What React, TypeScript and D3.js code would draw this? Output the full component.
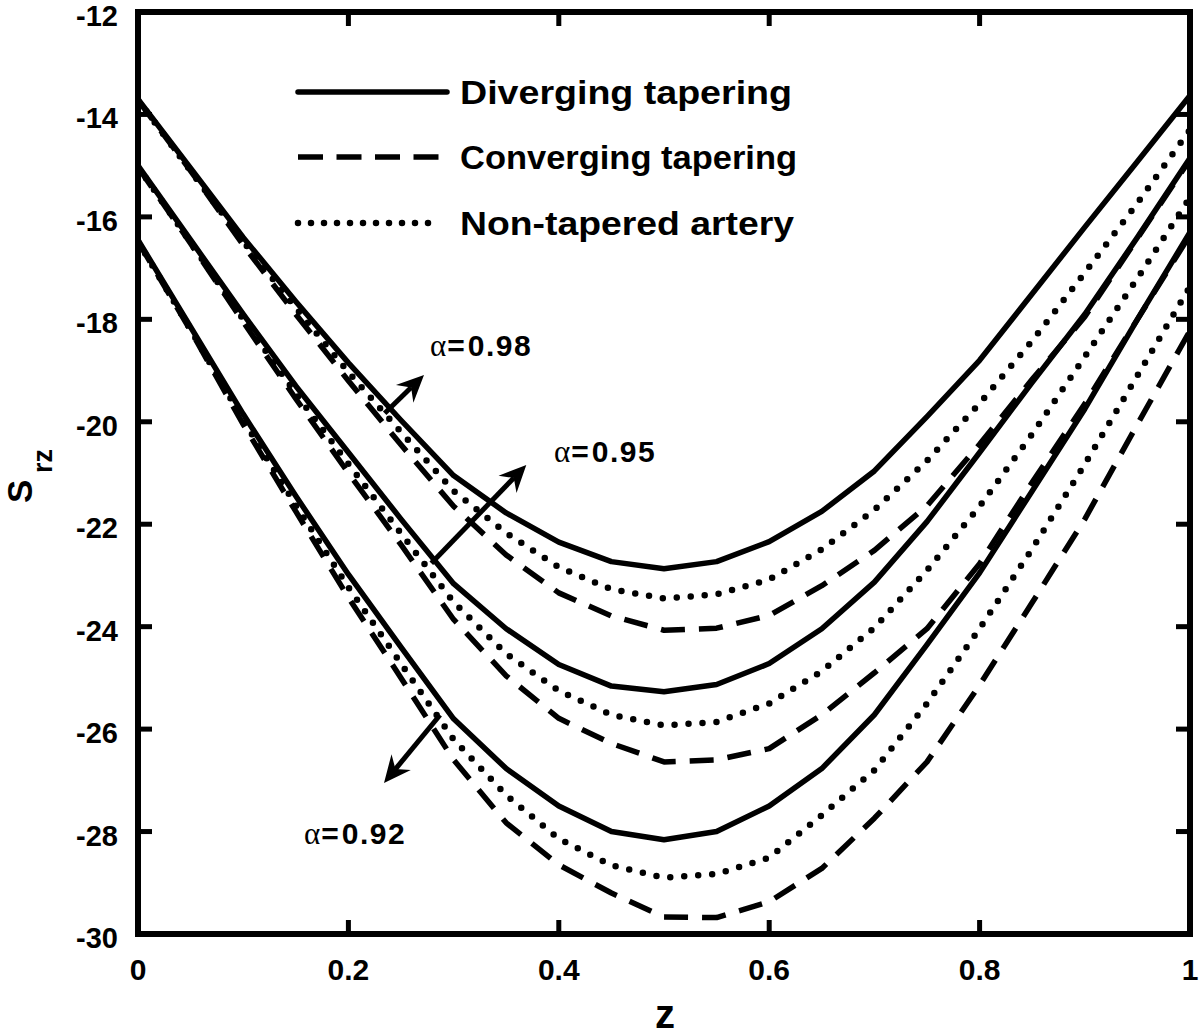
import React from "react";
import * as d3 from "d3";

// ---------- data ----------
const zValues = [0, 0.05, 0.1, 0.15, 0.2, 0.25, 0.3, 0.35, 0.4, 0.45, 0.5, 0.55, 0.6, 0.65, 0.7, 0.75, 0.8, 0.85, 0.9, 0.95, 1];

// alpha = 0.98
const divA = [-13.7, -15.05, -16.4, -17.65, -18.85, -19.97, -21.05, -21.78, -22.35, -22.73, -22.87, -22.73, -22.34, -21.75, -20.96, -19.9, -18.8, -17.5, -16.2, -14.92, -13.63];
const nonA = [-13.72, -15.1, -16.48, -17.78, -19.03, -20.2, -21.35, -22.17, -22.84, -23.27, -23.45, -23.37, -23.08, -22.49, -21.72, -20.76, -19.64, -18.42, -17.09, -15.73, -14.3];
const conA = [-13.72, -15.1, -16.55, -17.9, -19.2, -20.45, -21.65, -22.6, -23.34, -23.79, -24.07, -24.03, -23.78, -23.2, -22.51, -21.64, -20.44, -19.17, -17.95, -16.42, -14.88];
// alpha = 0.95
const divB = [-15.0, -16.45, -17.9, -19.3, -20.6, -21.9, -23.16, -24.04, -24.74, -25.16, -25.27, -25.13, -24.72, -24.04, -23.13, -21.95, -20.6, -19.23, -17.9, -16.4, -14.85];
const nonB = [-15.02, -16.5, -18.0, -19.45, -20.82, -22.18, -23.52, -24.53, -25.25, -25.72, -25.93, -25.86, -25.5, -24.87, -24.02, -22.9, -21.65, -20.24, -18.73, -17.2, -15.62];
const conB = [-15.03, -16.52, -18.05, -19.55, -21.0, -22.4, -23.86, -24.96, -25.79, -26.28, -26.64, -26.6, -26.38, -25.72, -24.9, -24.04, -22.77, -21.18, -19.65, -18.0, -16.35];
// alpha = 0.92
const divC = [-16.45, -18.15, -19.85, -21.45, -22.98, -24.4, -25.8, -26.77, -27.5, -28.0, -28.16, -28.0, -27.5, -26.77, -25.72, -24.35, -22.95, -21.35, -19.75, -18.0, -16.3];
const nonC = [-16.48, -18.2, -19.97, -21.63, -23.23, -24.72, -26.2, -27.29, -28.14, -28.66, -28.9, -28.83, -28.51, -27.68, -26.8, -25.5, -24.04, -22.48, -20.83, -19.1, -17.36];
const conC = [-16.48, -18.22, -20.05, -21.75, -23.43, -25.0, -26.6, -27.83, -28.65, -29.2, -29.67, -29.68, -29.37, -28.72, -27.74, -26.64, -25.14, -23.53, -21.9, -20.05, -18.22];

const xTicks = [0, 0.2, 0.4, 0.6, 0.8, 1];
const xTickLabels = ["0", "0.2", "0.4", "0.6", "0.8", "1"];
const yTicks = [-12, -14, -16, -18, -20, -22, -24, -26, -28, -30];

const legendLabels = ["Diverging tapering", "Converging tapering", "Non-tapered artery"];
const alphaLabels = ["0.98", "0.95", "0.92"];

// ---------- layout ----------
const W = 1200;
const H = 1036;
const X0 = 138, X1 = 1190, Y0 = 12, Y1 = 934;
const FONT = "'Liberation Sans', Arial, Helvetica, sans-serif";

const x = d3.scaleLinear().domain([0, 1]).range([X0, X1]);
const y = d3.scaleLinear().domain([-12, -30]).range([Y0, Y1]);

type Style = "solid" | "dashed" | "dotted";
const series: { vals: number[]; style: Style }[] = [
  { vals: divA, style: "solid" },
  { vals: nonA, style: "dotted" },
  { vals: conA, style: "dashed" },
  { vals: divB, style: "solid" },
  { vals: nonB, style: "dotted" },
  { vals: conB, style: "dashed" },
  { vals: divC, style: "solid" },
  { vals: nonC, style: "dotted" },
  { vals: conC, style: "dashed" },
];

function strokeProps(s: Style) {
  if (s === "dashed") return { strokeDasharray: "24 14", strokeLinecap: "butt" as const, strokeWidth: 5.5 };
  if (s === "dotted") return { strokeDasharray: "0 14", strokeLinecap: "round" as const, strokeWidth: 6.5 };
  return { strokeWidth: 5.5, strokeLinecap: "butt" as const };
}

const line = d3
  .line<number>()
  .x((_, i) => x(zValues[i]))
  .y((v) => y(v))
  .curve(d3.curveLinear);

function Arrow({ x1, y1, x2, y2 }: { x1: number; y1: number; x2: number; y2: number }) {
  const dx = x2 - x1, dy = y2 - y1;
  const len = Math.hypot(dx, dy);
  const ux = dx / len, uy = dy / len;
  const px = -uy, py = ux;
  const hl = 27, hw = 12.5, notch = 9;
  const bx = x2 - ux * hl, by = y2 - uy * hl;
  const nx = x2 - ux * (hl - notch), ny = y2 - uy * (hl - notch);
  const head = `M${x2},${y2} L${bx + px * hw},${by + py * hw} L${nx},${ny} L${bx - px * hw},${by - py * hw} Z`;
  return (
    <g>
      <line x1={x1} y1={y1} x2={nx} y2={ny} stroke="#000" strokeWidth={5} />
      <path d={head} fill="#000" />
    </g>
  );
}

function AlphaLabel({ x0, yb, val }: { x0: number; yb: number; val: string }) {
  return (
    <text x={x0} y={yb} fontSize={30} fill="#000">
      <tspan fontFamily="'Liberation Serif', 'DejaVu Serif', serif" fontSize={31}>α</tspan>
      <tspan fontFamily={FONT} fontWeight="bold" dx={1}>=</tspan>
      <tspan fontFamily={FONT} fontWeight="bold" dx={3} letterSpacing={1.5}>{val}</tspan>
    </text>
  );
}

export default function App() {
  const legendRows = [
    { style: "solid" as Style, yy: 92 },
    { style: "dashed" as Style, yy: 157 },
    { style: "dotted" as Style, yy: 223 },
  ];
  const legendWidths = [332, 337, 334];
  return (
    <svg width={W} height={H} style={{ position: "absolute", left: 0, top: 0, background: "#fff" }}>
      <rect x={0} y={0} width={W} height={H} fill="#fff" />
      <defs>
        <clipPath id="plotClip">
          <rect x={X0} y={Y0} width={X1 - X0} height={Y1 - Y0} />
        </clipPath>
      </defs>

      {/* curves */}
      <g clipPath="url(#plotClip)">
        {series.map((s, i) => (
          <path key={i} d={line(s.vals) || ""} fill="none" stroke="#000" strokeLinejoin="round" {...strokeProps(s.style)} />
        ))}
      </g>

      {/* frame */}
      <rect x={X0} y={Y0} width={X1 - X0} height={Y1 - Y0} fill="none" stroke="#000" strokeWidth={6} />

      {/* x ticks */}
      {xTicks.map((t, i) => (
        <g key={"xt" + i}>
          {i > 0 && i < xTicks.length - 1 && (
            <>
              <line x1={x(t)} x2={x(t)} y1={Y1} y2={Y1 - 14} stroke="#000" strokeWidth={5} />
              <line x1={x(t)} x2={x(t)} y1={Y0} y2={Y0 + 14} stroke="#000" strokeWidth={5} />
            </>
          )}
          <text x={x(t)} y={980} textAnchor="middle" fontFamily={FONT} fontWeight="bold" fontSize={30} fill="#000">
            {xTickLabels[i]}
          </text>
        </g>
      ))}

      {/* y ticks */}
      {yTicks.map((t, i) => (
        <g key={"yt" + i}>
          {i > 0 && i < yTicks.length - 1 && (
            <>
              <line x1={X0} x2={X0 + 14} y1={y(t)} y2={y(t)} stroke="#000" strokeWidth={5} />
              <line x1={X1} x2={X1 - 14} y1={y(t)} y2={y(t)} stroke="#000" strokeWidth={5} />
            </>
          )}
          <text x={118} y={y(t) + 14} textAnchor="end" fontFamily={FONT} fontWeight="bold" fontSize={29} fill="#000">
            {t}
          </text>
        </g>
      ))}

      {/* axis titles */}
      <text x={665} y={1028} textAnchor="middle" fontFamily={FONT} fontWeight="bold" fontSize={40} fill="#000">z</text>
      <text transform="translate(32,503) rotate(-90)" fontFamily={FONT} fontWeight="bold" fontSize={35} fill="#000">S</text>
      <text transform="translate(52,473) rotate(-90)" fontFamily={FONT} fontWeight="bold" fontSize={27} fill="#000">rz</text>

      {/* legend */}
      {legendRows.map((r, i) => (
        <g key={"lg" + i}>
          <line
            x1={298}
            x2={r.style === "solid" ? 447 : 440}
            y1={r.yy}
            y2={r.yy}
            stroke="#000"
            {...strokeProps(r.style)}
            strokeLinecap={r.style === "dashed" ? "butt" : "round"}
            strokeDasharray={r.style === "dashed" ? "25 13.5" : r.style === "dotted" ? "0 13" : undefined}
          />
          <text
            x={460}
            y={r.yy + 12}
            fontFamily={FONT}
            fontWeight="bold"
            fontSize={34}
            fill="#000"
            textLength={legendWidths[i]}
            lengthAdjust="spacingAndGlyphs"
          >
            {legendLabels[i]}
          </text>
        </g>
      ))}

      {/* annotations */}
      <Arrow x1={384.7} y1={413.3} x2={424} y2={375} />
      <Arrow x1={431.3} y1={563.3} x2={526.3} y2={465} />
      <Arrow x1={440} y1={715} x2={384} y2={783} />
      <AlphaLabel x0={430} yb={356} val={alphaLabels[0]} />
      <AlphaLabel x0={554} yb={462} val={alphaLabels[1]} />
      <AlphaLabel x0={304} yb={844} val={alphaLabels[2]} />
    </svg>
  );
}
